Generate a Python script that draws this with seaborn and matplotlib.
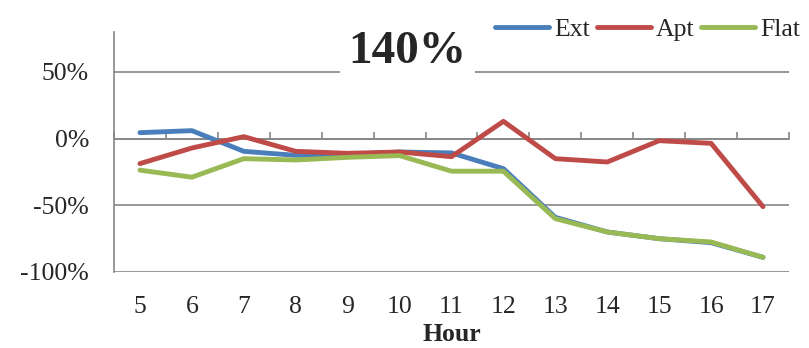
import numpy as np
import pandas as pd
import matplotlib
matplotlib.use("Agg")
import matplotlib.pyplot as plt
import seaborn as sns
from matplotlib.ticker import FuncFormatter

# ---- data ----
hours = list(range(5, 18))
ext = [4.5, 6, -9.5, -12.5, -12, -10, -10.7, -22.5, -59, -70, -75, -78, -89]
apt = [-18.7, -7, 1.5, -9.5, -11, -10, -13.5, 13, -15, -17.5, -1.5, -3.5, -51]
flat = [-23.6, -28.9, -15, -16, -14, -12.7, -24.4, -24.4, -60, -70, -75, -77.5, -89]
series_names = ["Ext", "Apt", "Flat"]
colors = ["#4A7EBB", "#BE4B48", "#98B954"]
title_text = "140%"
x_label = "Hour"
y_ticks = [-100, -50, 0, 50]

df = pd.DataFrame({
    "Hour": hours * 3,
    "Value": ext + apt + flat,
    "Series": sum([[n] * len(hours) for n in series_names], []),
})

sns.set_style("white")
plt.rcParams["font.family"] = ["Liberation Serif", "DejaVu Serif"]
grey = "#868686"

fig = plt.figure(figsize=(8.09, 3.48), dpi=100)
ax = fig.add_axes([114 / 809, 1 - 272 / 348, (789 - 114) / 809, (272 - 32) / 348])

sns.lineplot(data=df, x="Hour", y="Value", hue="Series", hue_order=series_names,
             palette=colors, linewidth=3.5, ax=ax, legend=True)
for ln in ax.lines:
    ln.set_solid_capstyle("round")
    ln.set_solid_joinstyle("round")

ax.set_xlim(hours[0] - 0.5, hours[-1] + 0.5)
ax.set_ylim(-100, 80)
ax.set_yticks(y_ticks)
ax.yaxis.set_major_formatter(FuncFormatter(lambda v, p: f"{v:.0f}%"))
ax.set_xticks(hours)
ax.set_xticklabels([str(h) for h in hours])
ax.tick_params(axis="x", length=0, pad=17, labelsize=18.5)
ax.tick_params(axis="y", length=5, width=1.2, color=grey, pad=13, labelsize=18.5, direction="out")
ax.grid(axis="y", color=grey, linewidth=1.2)
ax.grid(axis="x", visible=False)
ax.set_axisbelow(True)
for s in ["top", "right", "bottom"]:
    ax.spines[s].set_visible(False)
ax.spines["left"].set_color(grey)
ax.spines["left"].set_linewidth(1.2)
ax.set_ylabel("")
ax.set_xlabel(x_label, fontsize=18.5, fontweight="bold", labelpad=4)

# category axis crossing at 0%
sec = ax.secondary_xaxis(100 / 180)
sec.set_xticks(np.arange(hours[0] - 0.5, hours[-1] + 1, 1))
sec.set_xticklabels([])
sec.tick_params(axis="x", direction="out", length=5, width=1.2, color=grey)
for s in sec.spines.values():
    s.set_color(grey)
    s.set_linewidth(1.2)

# legend
handles, labels = ax.get_legend_handles_labels()
ax.legend_.remove()
for h in handles:
    h.set_linewidth(3.5)
    h.set_solid_capstyle("round")
fig.legend(handles, labels, loc="center right", bbox_to_anchor=(800 / 809, 1 - 30 / 348),
           ncol=3, frameon=False, fontsize=18.5, handlelength=2.1, handletextpad=0.2,
           columnspacing=0.25, borderpad=0, borderaxespad=0)

fig.text(407 / 809, 1 - 52 / 348, title_text, ha="center", va="center", fontsize=34,
         fontweight="bold", bbox=dict(facecolor="white", edgecolor="none", pad=6))

fig.savefig("out.png", dpi=100)
